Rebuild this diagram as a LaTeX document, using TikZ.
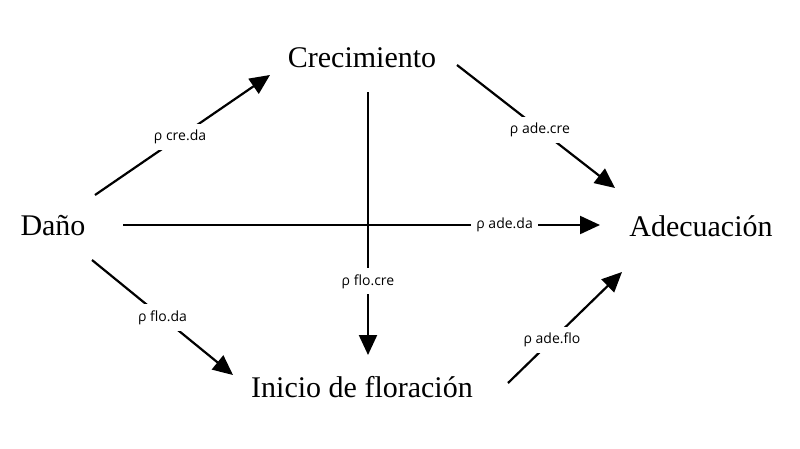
\documentclass[tikz,border=0pt]{standalone}
\usepackage{fontspec}
\setmainfont{Liberation Serif}
\newfontfamily\lblfont{Open Sans}
\usetikzlibrary{arrows.meta}
\begin{document}
\begin{tikzpicture}[x=1pt,y=-1pt,
  var/.style={font=\fontsize{30}{32}\selectfont, inner sep=0pt},
  lbl/.style={font=\lblfont\fontsize{14}{15}\selectfont, fill=white, inner xsep=5pt, inner ysep=6pt},
  arr/.style={line width=2.2pt, -{Triangle[length=20pt,width=18pt]}}]
\useasboundingbox (0,0) rectangle (800,448);
\node[var] (da)  at (53,226)  {Daño};
\node[var] (cre) at (362,58)  {Crecimiento};
\node[var] (ade) at (701,226) {Adecuación};
\node[var] (flo) at (362,387) {Inicio de floración};
% Daño -> Adecuación
\draw[arr] ([shift={(70,-1)}]da.center) -- node[lbl,pos=0.80]{ρ ade.da} ([shift={(-101,-1)}]ade.center);
% Crecimiento -> Inicio
\draw[arr] ([shift={(6,34)}]cre.center) -- node[lbl,pos=0.72]{ρ flo.cre} ([shift={(6,-32)}]flo.center);
% Daño -> Crecimiento
\draw[arr] ([shift={(42,-31)}]da.center) -- node[lbl,pos=0.486]{ρ cre.da} ([shift={(-92,17)}]cre.center);
% Crecimiento -> Adecuación
\draw[arr] ([shift={(95,7)}]cre.center) -- node[lbl,pos=0.525]{ρ ade.cre} ([shift={(-86,-38)}]ade.center);
% Daño -> Inicio
\draw[arr] ([shift={(39,34)}]da.center) -- node[lbl,pos=0.50]{ρ flo.da} ([shift={(-129,-12)}]flo.center);
% Inicio -> Adecuación
\draw[arr] ([shift={(146,-4)}]flo.center) -- node[lbl,pos=0.386]{ρ ade.flo} ([shift={(-79,46)}]ade.center);
\end{tikzpicture}
\end{document}
